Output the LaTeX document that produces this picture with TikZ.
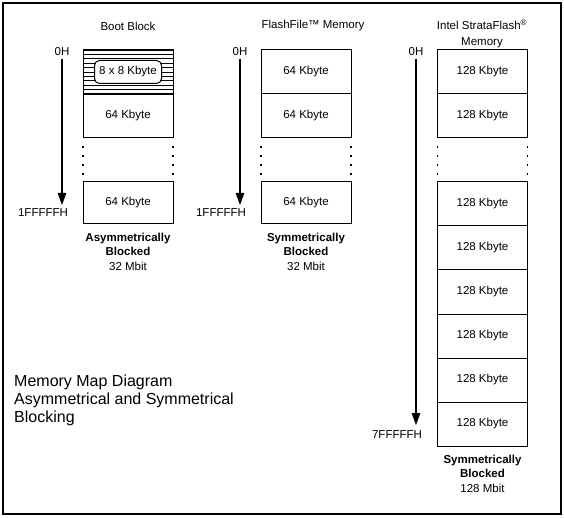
\documentclass[tikz,border=0pt]{standalone}
\usepackage{fontspec}
\setmainfont{Liberation Sans}
\usetikzlibrary{arrows.meta, positioning}
\tikzset{
    blk/.style={rectangle, draw, line width=1pt, minimum width=90pt, minimum height=44pt, inner sep=0pt, outer sep=0pt, font=\fontsize{11.5}{14}\selectfont},
    lbl/.style={inner sep=0pt, font=\fontsize{11.5}{14}\selectfont},
    caption/.style={align=center, inner sep=0pt, font=\fontsize{11.5}{14}\selectfont\bfseries},
    addr/.style={-{Triangle[length=12pt,width=8.5pt]}, line width=1.1pt, shorten <=2.5pt},
    gap/.style={line width=1.3pt, dash pattern=on 1.3pt off 7.7pt},
    hatch/.style={line width=0.7pt}
}
\begin{document}
\begin{tikzpicture}[x=1pt, y=-1pt]
    \useasboundingbox (0,0) rectangle (564,518);
    \draw[line width=1.2pt] (3,3) rectangle (561,514);

    % boot block
    \node[lbl] (tboot) at (128,26) {Boot Block};
    \node[blk] (boot1) at (128,72) {};
    \foreach \k in {0,...,10}
        \draw[hatch] ([yshift=-\k*4.4pt]boot1.north west) -- ([yshift=-\k*4.4pt]boot1.north east);
    \node[rectangle, draw, fill=white, rounded corners=5pt, line width=1pt, lbl, minimum width=67pt, minimum height=23pt] (boot8) at (boot1) {8 x 8 Kbyte};
    \node[blk, below=0pt of boot1] (boot2) {64 Kbyte};
    \node[blk, minimum height=42pt, below=44pt of boot2] (boot3) {64 Kbyte};
    \draw[gap] ([yshift=-8.5pt]boot2.south west) -- ([yshift=7pt]boot3.north west);
    \draw[gap] ([yshift=-8.5pt]boot2.south east) -- ([yshift=7pt]boot3.north east);
    \node[lbl] (zboot) at (62,52) {0H};
    \coordinate (eboot) at (62,205);
    \draw[addr] (zboot) -- (eboot);
    \node[lbl] (fboot) at (43,213) {1FFFFFH};
    \node[caption, below=9pt of boot3] (cboot) {Asymmetrically\\Blocked};
    \node[lbl, below=6.5pt of cboot] (mboot) {32 Mbit};

    % flashfile
    \node[lbl] (tff) at (313,26) {FlashFile™ Memory};
    \node[blk] (ff1) at (306,72) {64 Kbyte};
    \node[blk, below=0pt of ff1] (ff2) {64 Kbyte};
    \node[blk, minimum height=42pt, below=44pt of ff2] (ff3) {64 Kbyte};
    \draw[gap] ([yshift=-8.5pt]ff2.south west) -- ([yshift=7pt]ff3.north west);
    \draw[gap] ([yshift=-8.5pt]ff2.south east) -- ([yshift=7pt]ff3.north east);
    \node[lbl] (zff) at (240,52) {0H};
    \coordinate (eff) at (240,205);
    \draw[addr] (zff) -- (eff);
    \node[lbl] (fff) at (221,213) {1FFFFFH};
    \node[caption, below=9pt of ff3] (cff) {Symmetrically\\Blocked};
    \node[lbl, below=6.5pt of cff] (mff) {32 Mbit};

    % strataflash
    \node[lbl, align=center, font=\fontsize{11.5}{16}\selectfont] (tsf) at (482,34) {Intel StrataFlash\textsuperscript{®}\\Memory};
    \node[blk] (sf1) at (482.5,72) {128 Kbyte};
    \node[blk, below=0pt of sf1] (sf2) {128 Kbyte};
    \node[blk, below=44pt of sf2] (sf3) {128 Kbyte};
    \foreach \i [remember=\i as \j (initially 3)] in {4,...,8}
        \node[blk, below=0pt of sf\j] (sf\i) {128 Kbyte};
    \draw[gap] ([yshift=-8.5pt]sf2.south west) -- ([yshift=7pt]sf3.north west);
    \draw[gap] ([yshift=-8.5pt]sf2.south east) -- ([yshift=7pt]sf3.north east);
    \node[lbl] (zsf) at (416,52) {0H};
    \coordinate (esf) at (416,425);
    \draw[addr] (zsf) -- (esf);
    \node[lbl] (fsf) at (397,435) {7FFFFFH};
    \node[caption, below=9pt of sf8] (csf) {Symmetrically\\Blocked};
    \node[lbl, below=6.5pt of csf] (msf) {128 Mbit};

    \node[anchor=west, align=left, inner sep=0pt, font=\fontsize{16}{18}\selectfont] (memtitle) at (14,400) {Memory Map Diagram\\Asymmetrical and Symmetrical\\Blocking};
\end{tikzpicture}
\end{document}
